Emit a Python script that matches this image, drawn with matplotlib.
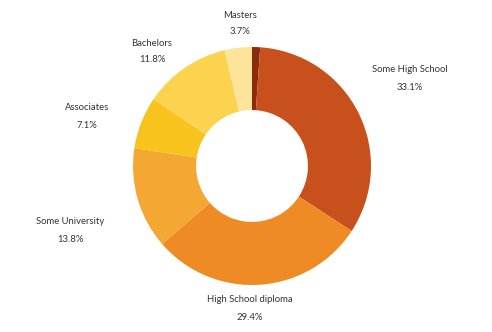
import matplotlib.pyplot as plt

# education level shares (clockwise from 12 o'clock)
categories = ["Doctorate", "Some High School", "High School diploma", "Some University",
              "Associates", "Bachelors", "Masters"]
shares = [1.1, 33.1, 29.4, 13.8, 7.1, 11.8, 3.7]
colors = ["#8a2c0c", "#c8501c", "#ee8b25", "#f5a733", "#f7c31c", "#fbd34e", "#fce49a"]
show_label = [False, True, True, True, True, True, True]

# label anchor positions in pixels (x, y from top)
label_pos = [None, (410, 70), (250, 300), (70, 222), (87, 108), (152, 43), (240, 15)]

W, H = 492, 332
fig = plt.figure(figsize=(W / 100, H / 100), dpi=100)
ax = fig.add_axes([0, 0, 1, 1])

cx, cy, R = 252, H - 166, 119
ax.pie(shares, colors=colors, startangle=90, counterclock=False,
       center=(cx, cy), radius=R, frame=True,
       wedgeprops=dict(width=R * 0.53, linewidth=0))
ax.set_xlim(0, W)
ax.set_ylim(0, H)
ax.set_aspect("equal")
ax.axis("off")

for name, val, show, pos in zip(categories, shares, show_label, label_pos):
    if not show:
        continue
    x, y = pos
    ax.text(x, H - y, name, ha="center", va="center", fontsize=6.8,
            family="Lato", color="#333333")
    ax.text(x, H - y - 17, f"{val}%", ha="center", va="center", fontsize=6.8,
            family="Lato", color="#333333")

fig.savefig("out.png", dpi=100)
